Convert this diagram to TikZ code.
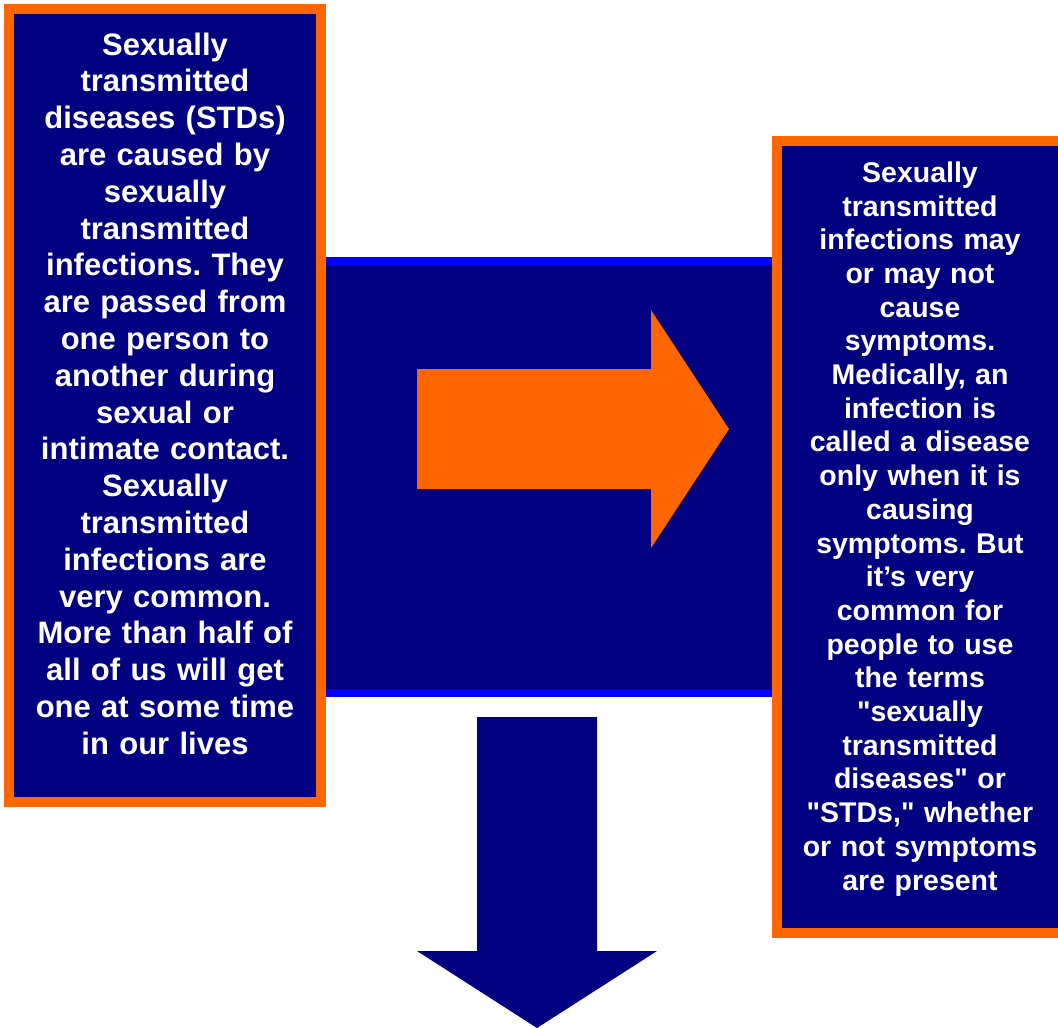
\documentclass[tikz,border=0pt]{standalone}
\usepackage{fontspec}
\newfontfamily\stdfont{Liberation Sans}
\frenchspacing
\usetikzlibrary{positioning}
\definecolor{stdnavy}{RGB}{0,0,128}
\definecolor{stdorange}{RGB}{255,102,0}
\definecolor{stdblue}{RGB}{0,0,255}
\tikzset{
  sidebox/.style={draw=stdorange, fill=stdnavy, line width=10pt, inner sep=0pt},
  bandbox/.style={draw=stdblue, fill=stdnavy, line width=8pt, inner sep=0pt},
  boxtext/.style={text=white, align=center, inner sep=0pt, anchor=north},
}

\begin{document}
\begin{tikzpicture}[x=1pt, y=-1pt]
    \useasboundingbox (0,0) rectangle (1058,1028);
    \clip (0,0) rectangle (1058,1028);
    \fill[white] (0,0) rectangle (1058,1028);
    % middle band behind the boxes
    \node[bandbox, minimum width=456pt, minimum height=432pt] (band) at (549,477) {};
    \node[sidebox, minimum width=312pt, minimum height=793pt] (stdbox) at (165,405.5) {};
    \node[sidebox, minimum width=286pt, minimum height=792pt] (symbox) at (920,537) {};
    \node[boxtext, text width=300pt, font=\stdfont\bfseries\fontsize{31}{36.8}\selectfont] (stdtext) at (165,32.5)
      {Sexually\\ transmitted\\ diseases (STDs)\\ are caused by\\ sexually\\ transmitted\\ infections. They\\ are passed from\\ one person to\\ another during\\ sexual or\\ intimate contact.\\ Sexually\\ transmitted\\ infections are\\ very common.\\ More than half of\\ all of us will get\\ one at some time\\ in our lives};
    \node[boxtext, text width=280pt, font=\stdfont\bfseries\fontsize{28.5}{33.7}\selectfont] (symtext) at (920,161.5)
      {Sexually\\ transmitted\\ infections may\\ or may not\\ cause\\ symptoms.\\ Medically, an\\ infection is\\ called a disease\\ only when it is\\ causing\\ symptoms. But\\ it’s very\\ common for\\ people to use\\ the terms\\ "sexually\\ transmitted\\ diseases" or\\ "STDs," whether\\ or not symptoms\\ are present};
    % block arrows
    \fill[stdorange] (417,369) -- (651,369) -- (651,310) -- (729,429) -- (651,548) -- (651,489) -- (417,489) -- cycle;
    \fill[stdnavy] (477,717) -- (597,717) -- (597,951) -- (657,951) -- (537,1028) -- (417,951) -- (477,951) -- cycle;
\end{tikzpicture}
\end{document}
